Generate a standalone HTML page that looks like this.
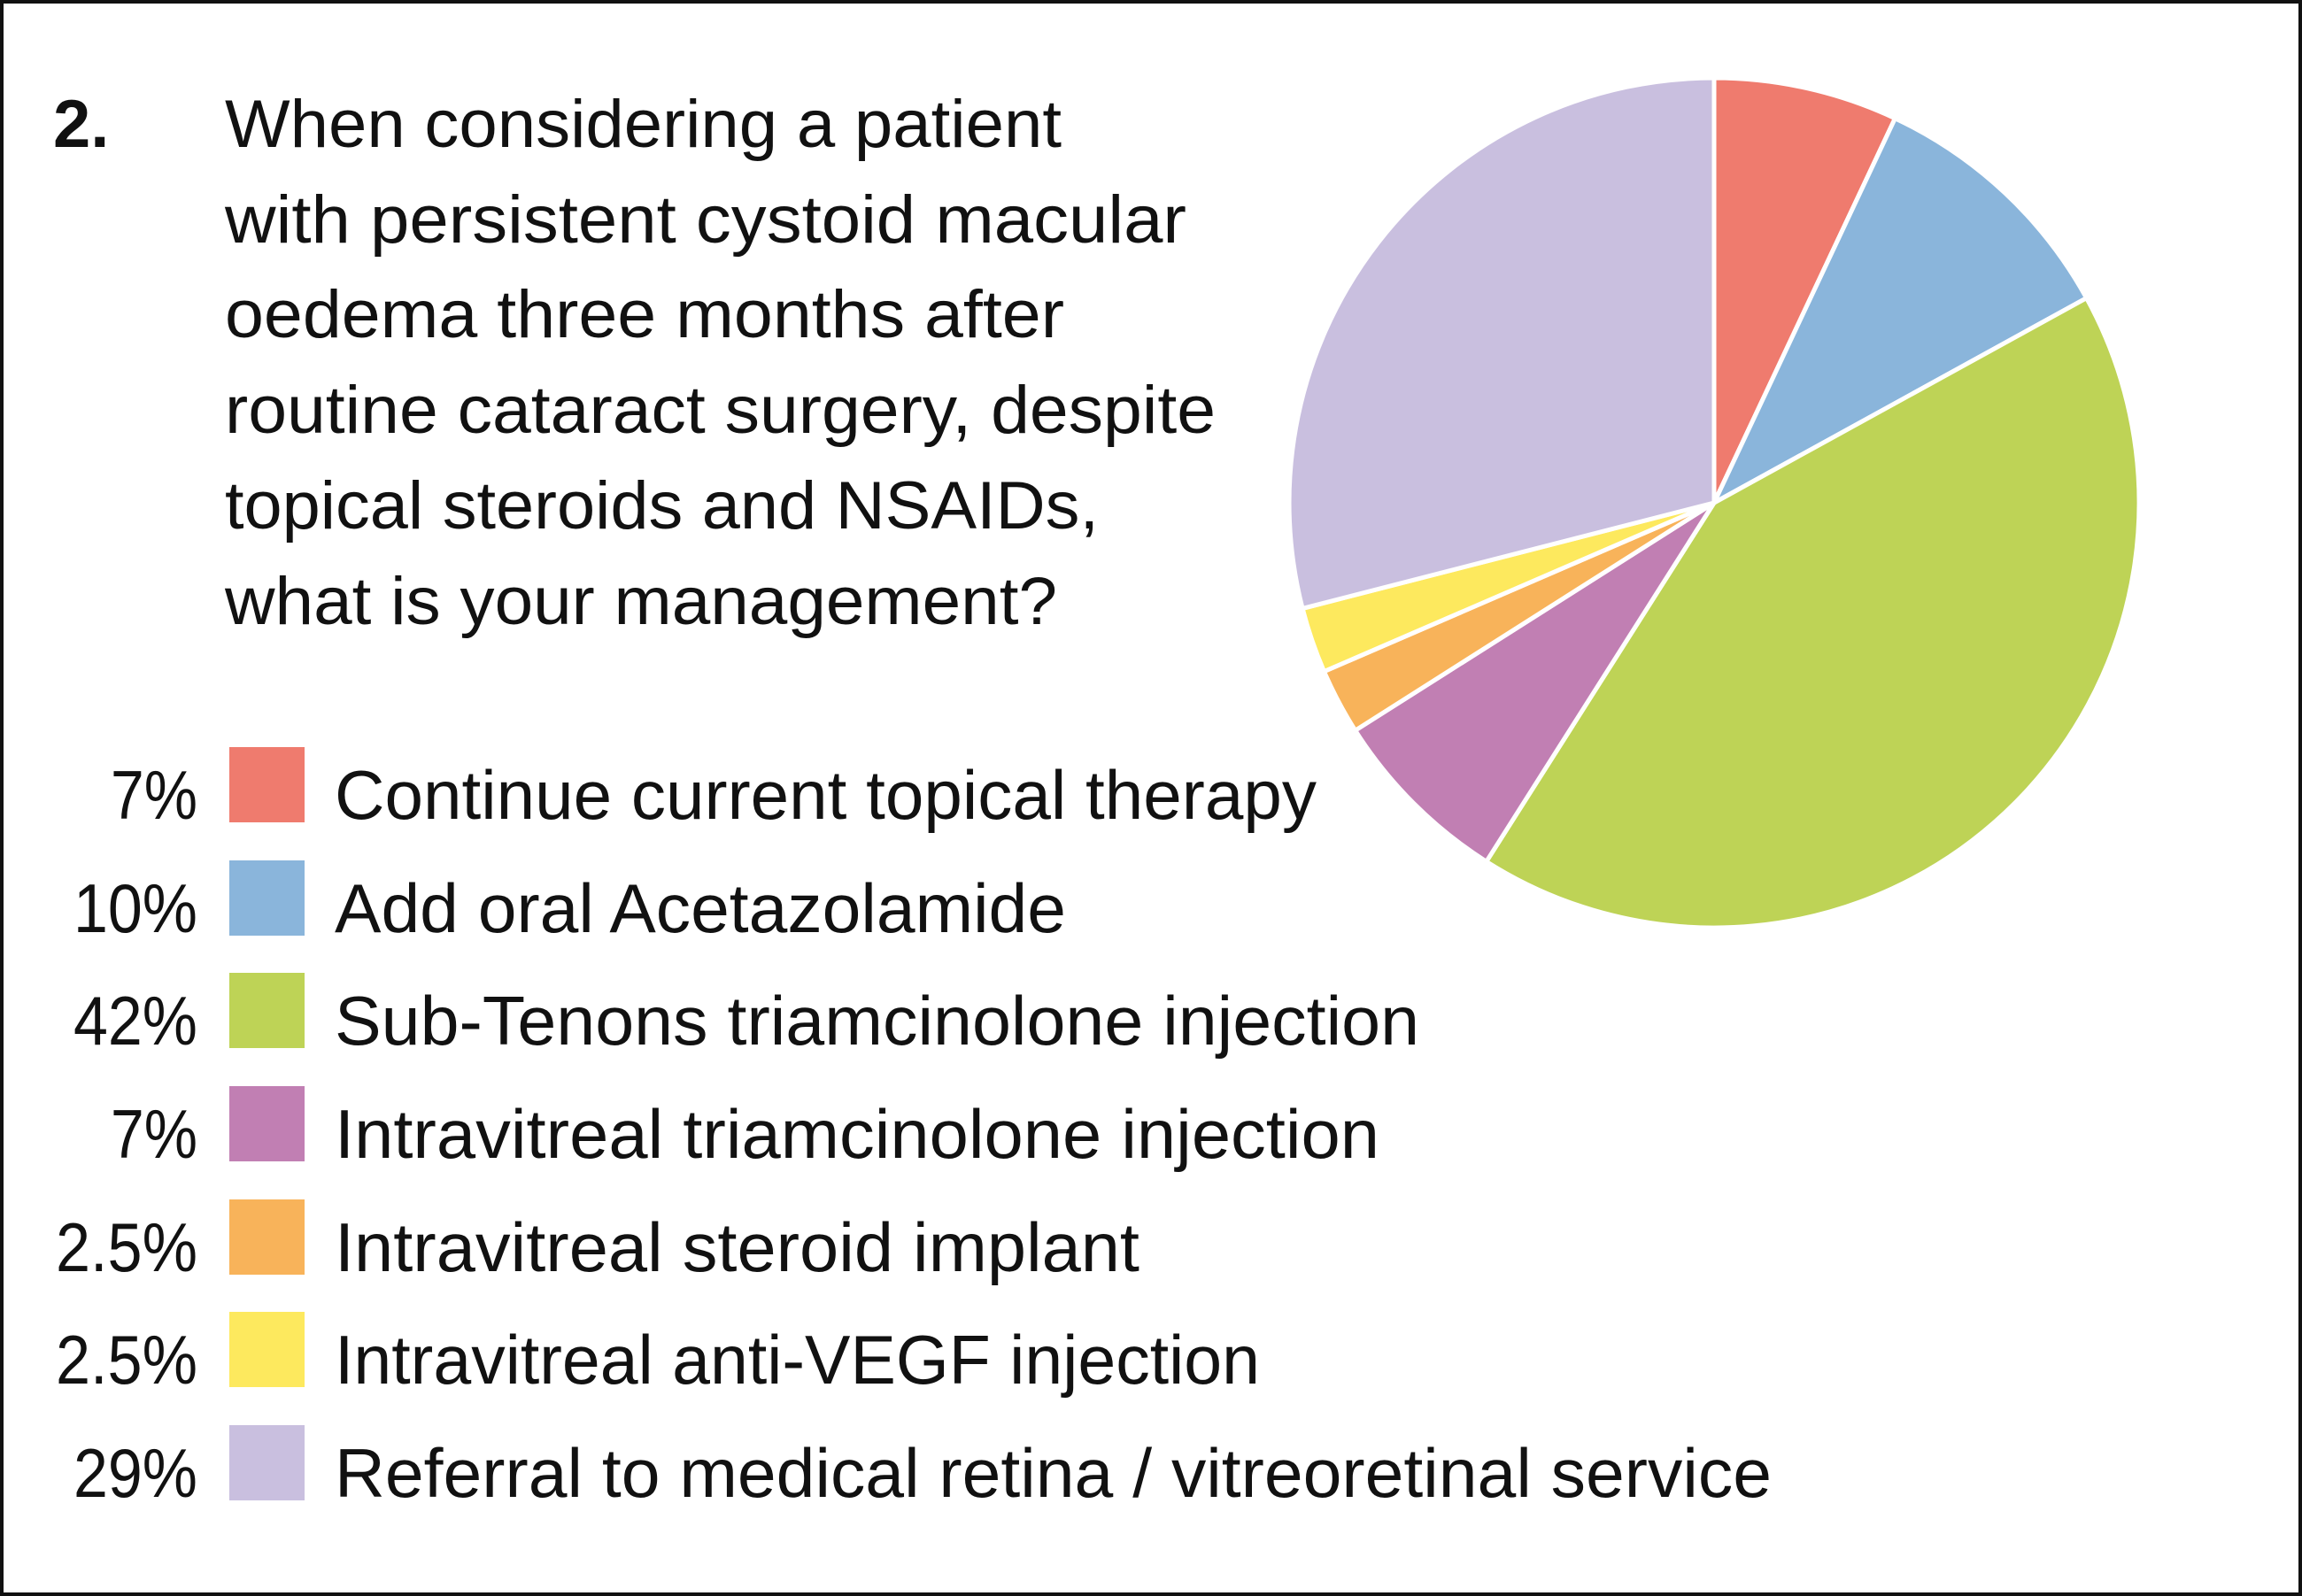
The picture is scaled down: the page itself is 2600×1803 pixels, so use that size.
<!DOCTYPE html>
<html><head><meta charset="utf-8"><style>
html,body{margin:0;padding:0;background:#fff}
svg{display:block}
text{font-family:"Liberation Sans",sans-serif;fill:#111}
</style></head><body>
<svg width="2600" height="1803" viewBox="0 0 2600 1803" xmlns="http://www.w3.org/2000/svg">
<rect x="0" y="0" width="2600" height="1803" fill="#fff"/>
<rect x="2" y="2" width="2596" height="1799" fill="none" stroke="#111" stroke-width="4"/>
<g stroke="#fff" stroke-width="5" stroke-linejoin="round">
<path d="M1936,568 L1936,88 A480,480 0 0 1 2140.4,133.7 Z" fill="#ef7b6e"/>
<path d="M1936,568 L2140.4,133.7 A480,480 0 0 1 2356.6,336.7 Z" fill="#8ab5db"/>
<path d="M1936,568 L2356.6,336.7 A480,480 0 0 1 1678.8,973.3 Z" fill="#bed356"/>
<path d="M1936,568 L1678.8,973.3 A480,480 0 0 1 1530.7,825.2 Z" fill="#c17fb3"/>
<path d="M1936,568 L1530.7,825.2 A480,480 0 0 1 1495.5,758.6 Z" fill="#f8b35a"/>
<path d="M1936,568 L1495.5,758.6 A480,480 0 0 1 1471.1,687.4 Z" fill="#fde95e"/>
<path d="M1936,568 L1471.1,687.4 A480,480 0 0 1 1936,88 Z" fill="#c9bfdf"/>
</g>
<g font-size="76">
<text x="60" y="166" font-weight="bold">2.</text>
<text x="254" y="166" textLength="945" lengthAdjust="spacingAndGlyphs">When considering a patient</text>
<text x="254" y="274" textLength="1086" lengthAdjust="spacingAndGlyphs">with persistent cystoid macular</text>
<text x="254" y="381" textLength="948" lengthAdjust="spacingAndGlyphs">oedema three months after</text>
<text x="254" y="489" textLength="1119" lengthAdjust="spacingAndGlyphs">routine cataract surgery, despite</text>
<text x="254" y="597" textLength="987" lengthAdjust="spacingAndGlyphs">topical steroids and NSAIDs,</text>
<text x="254" y="705" textLength="940" lengthAdjust="spacingAndGlyphs">what is your management?</text>
</g>
<g font-size="78">
<rect x="259" y="844" width="85" height="85" fill="#ef7b6e"/>
<rect x="259" y="972" width="85" height="85" fill="#8ab5db"/>
<rect x="259" y="1099" width="85" height="85" fill="#bed356"/>
<rect x="259" y="1227" width="85" height="85" fill="#c17fb3"/>
<rect x="259" y="1355" width="85" height="85" fill="#f8b35a"/>
<rect x="259" y="1482" width="85" height="85" fill="#fde95e"/>
<rect x="259" y="1610" width="85" height="85" fill="#c9bfdf"/>
<g text-anchor="end">
<text x="223" y="925" textLength="98" lengthAdjust="spacingAndGlyphs">7%</text>
<text x="223" y="1053" textLength="140" lengthAdjust="spacingAndGlyphs">10%</text>
<text x="223" y="1180" textLength="140" lengthAdjust="spacingAndGlyphs">42%</text>
<text x="223" y="1308" textLength="98" lengthAdjust="spacingAndGlyphs">7%</text>
<text x="223" y="1436" textLength="160" lengthAdjust="spacingAndGlyphs">2.5%</text>
<text x="223" y="1563" textLength="160" lengthAdjust="spacingAndGlyphs">2.5%</text>
<text x="223" y="1691" textLength="140" lengthAdjust="spacingAndGlyphs">29%</text>
</g>
<text x="378" y="925" textLength="1109" lengthAdjust="spacingAndGlyphs">Continue current topical therapy</text>
<text x="378" y="1053" textLength="826" lengthAdjust="spacingAndGlyphs">Add oral Acetazolamide</text>
<text x="378" y="1180" textLength="1225" lengthAdjust="spacingAndGlyphs">Sub-Tenons triamcinolone injection</text>
<text x="378" y="1308" textLength="1180" lengthAdjust="spacingAndGlyphs">Intravitreal triamcinolone injection</text>
<text x="378" y="1436" textLength="909" lengthAdjust="spacingAndGlyphs">Intravitreal steroid implant</text>
<text x="378" y="1563" textLength="1045" lengthAdjust="spacingAndGlyphs">Intravitreal anti-VEGF injection</text>
<text x="378" y="1691" textLength="1623" lengthAdjust="spacingAndGlyphs">Referral to medical retina / vitreoretinal service</text>
</g>
</svg>
</body></html>
